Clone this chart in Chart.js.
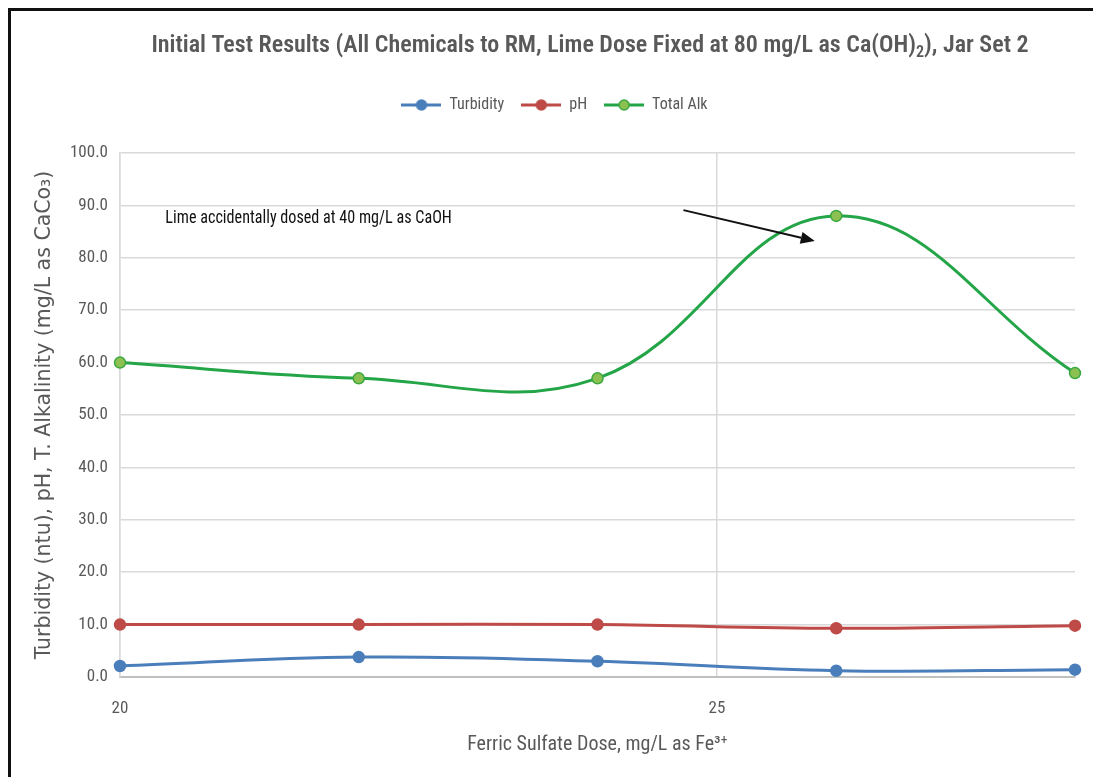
<!DOCTYPE html>
<html>
<head>
<meta charset="utf-8">
<script src="https://cdn.jsdelivr.net/npm/chart.js@4.4.1/dist/chart.umd.min.js"></script>
<style>
  html, body { margin: 0; padding: 0; background: #fff; overflow: hidden; }
</style>
</head>
<body>
<canvas id="chart" width="1093" height="777"></canvas>
<script>
// ferric sulfate dose (mg/L as Fe3+)
const doses = [20, 22, 24, 26, 28];
const turbidity = [2.1, 3.8, 3.0, 1.2, 1.4];
const ph = [10.0, 10.0, 10.0, 9.3, 9.8];
const totalAlk = [60.0, 57.0, 57.0, 88.0, 58.0];
const seriesNames = ["Turbidity", "pH", "Total Alk"];

// note + arrow, in data units
const noteText = "Lime accidentally dosed at 40 mg/L as CaOH";
const notePos = { x: 20.38, y: 87.6 };
const arrowFrom = { x: 24.72, y: 89.1 };
const arrowTo = { x: 25.82, y: 83.2 };

const FONT = "'Liberation Sans Narrow', 'Roboto Condensed', 'Open Sans', sans-serif";
const GREY = "#595959";

const lineColors = ["#4a7ebb", "#be4b48", "#23a548"];
const markerFill = ["#4a7ebb", "#be4b48", "#8cc152"];
const markerEdge = ["#4a7ebb", "#be4b48", "#3aa83e"];

//small line+dot swatch for the legend
function swatch(i) {
  const c = document.createElement("canvas");
  c.width = 40; c.height = 14;
  const g = c.getContext("2d");
  g.strokeStyle = lineColors[i];
  g.lineWidth = 3;
  g.beginPath(); g.moveTo(0, 7); g.lineTo(40, 7); g.stroke();
  g.fillStyle = markerFill[i];
  g.strokeStyle = markerEdge[i];
  g.lineWidth = 1.5;
  g.beginPath(); g.arc(20, 7, 5, 0, Math.PI * 2); g.fill(); g.stroke();
  return c;
}
const swatches = [0, 1, 2].map(swatch);

function pts(vals) {
  return doses.map((d, i) => ({ x: d, y: vals[i] }));
}
function makeSet(i, vals) {
  return {
    label: seriesNames[i],
    data: pts(vals),
    borderColor: lineColors[i],
    backgroundColor: markerFill[i],
    pointBackgroundColor: markerFill[i],
    pointBorderColor: markerEdge[i],
    pointBorderWidth: 1.5,
    pointRadius: 5.5,
    borderWidth: 3,
    tension: 0.4,
    clip: false,
  };
}

//title with a real subscript, plus the note and arrow
const extras = {
  id: "extras",
  afterDraw(chart) {
    const ctx = chart.ctx;
    const xs = chart.scales.x, ys = chart.scales.y;
    ctx.save();
    // title
    const head = "Initial Test Results (All Chemicals to RM, Lime Dose Fixed at 80 mg/L as Ca(OH)";
    const sub = "2";
    const tail = "), Jar Set 2";
    const big = "600 24px " + FONT, small = "600 16px " + FONT;
    ctx.font = big;
    const w1 = ctx.measureText(head).width, w3 = ctx.measureText(tail).width;
    ctx.font = small;
    const w2 = ctx.measureText(sub).width;
    let x = 590 - (w1 + w2 + w3) / 2;
    ctx.fillStyle = GREY;
    ctx.textBaseline = "alphabetic";
    ctx.textAlign = "left";
    ctx.font = big; ctx.fillText(head, x, 52); x += w1;
    ctx.font = small; ctx.fillText(sub, x, 57); x += w2;
    ctx.font = big; ctx.fillText(tail, x, 52);

    // note, a little condensed like the original
    ctx.fillStyle = "#111";
    ctx.font = "19px " + FONT;
    ctx.textBaseline = "middle";
    ctx.save();
    ctx.translate(xs.getPixelForValue(notePos.x), ys.getPixelForValue(notePos.y));
    ctx.scale(0.85, 1);
    ctx.fillText(noteText, 0, 0);
    ctx.restore();

    // arrow
    const x0 = xs.getPixelForValue(arrowFrom.x), y0 = ys.getPixelForValue(arrowFrom.y);
    const x1 = xs.getPixelForValue(arrowTo.x), y1 = ys.getPixelForValue(arrowTo.y);
    const ang = Math.atan2(y1 - y0, x1 - x0);
    const hl = 14, hw = 6;
    const bx = x1 - hl * Math.cos(ang), by = y1 - hl * Math.sin(ang);
    ctx.strokeStyle = "#111";
    ctx.lineWidth = 2;
    ctx.beginPath(); ctx.moveTo(x0, y0); ctx.lineTo(bx, by); ctx.stroke();
    ctx.fillStyle = "#111";
    ctx.beginPath();
    ctx.moveTo(x1, y1);
    ctx.lineTo(bx + hw * Math.sin(ang), by - hw * Math.cos(ang));
    ctx.lineTo(bx - hw * Math.sin(ang), by + hw * Math.cos(ang));
    ctx.closePath(); ctx.fill();

    // frame on the left and top
    ctx.fillStyle = "#111";
    ctx.fillRect(8, 8, chart.width, 3);
    ctx.fillRect(8, 8, 3, chart.height);
    ctx.restore();
  }
};

const bgPlugin = {
  id: "bg",
  beforeDraw(chart) {
    const ctx = chart.ctx;
    ctx.save();
    ctx.fillStyle = "#fff";
    ctx.fillRect(0, 0, chart.width, chart.height);
    ctx.restore();
  }
};

new Chart(document.getElementById("chart"), {
  type: "line",
  plugins: [bgPlugin, extras],
  data: {
    datasets: [makeSet(0, turbidity), makeSet(1, ph), makeSet(2, totalAlk)],
  },
  options: {
    responsive: false,
    animation: false,
    layout: { padding: { top: 80, left: 34, right: 18, bottom: 10 } },
    plugins: {
      tooltip: { enabled: false },
      title: { display: false },
      //empty spacer between legend and plot
      subtitle: {
        display: true, text: "", weight: 500,
        font: { size: 10, lineHeight: 1 },
        padding: { top: 0, bottom: 20 },
      },
      legend: {
        position: "top",
        labels: {
          usePointStyle: true,
          pointStyleWidth: 40,
          padding: 17,
          color: GREY,
          font: { family: FONT, size: 16 },
          generateLabels(chart) {
            const items = Chart.defaults.plugins.legend.labels.generateLabels(chart);
            items.forEach((it, i) => { it.pointStyle = swatches[i]; });
            return items;
          },
        },
      },
    },
    scales: {
      x: {
        type: "linear",
        min: 20,
        max: 28,
        afterFit(scale) { scale.height = 90; },
        ticks: {
          stepSize: 5,
          includeBounds: false,
          padding: 22,
          color: GREY,
          font: { family: FONT, size: 17 },
        },
        grid: { color: "#d9d9d9", lineWidth: 1.5, drawTicks: false },
        border: { color: "#bfbfbf", width: 2 },
        title: {
          display: true,
          text: "Ferric Sulfate Dose, mg/L as Fe³⁺",
          color: GREY,
          font: { family: FONT, size: 20 },
          padding: { top: 0, bottom: 10 },
        },
      },
      y: {
        min: 0,
        max: 100,
        afterFit(scale) { scale.width = 86; },
        ticks: {
          stepSize: 10,
          padding: 12,
          color: GREY,
          font: { family: FONT, size: 17 },
          callback: (v) => v.toFixed(1),
        },
        grid: { color: "#d9d9d9", lineWidth: 1.5, drawTicks: false },
        border: { color: "#d9d9d9", width: 1.5 },
        title: {
          display: true,
          text: "Turbidity (ntu), pH, T. Alkalinity (mg/L as CaCo₃)",
          color: GREY,
          font: { family: "'DejaVu Sans', sans-serif", size: 20.5 },
          padding: { top: -2, bottom: 0 },
        },
      },
    },
  },
});
</script>
</body>
</html>
